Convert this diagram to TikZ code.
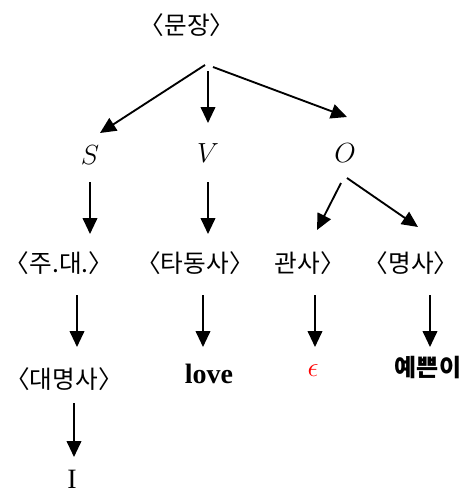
\documentclass[tikz,border=0pt]{standalone}
\usepackage{fontspec}
\setmainfont{Liberation Serif}
\newfontfamily\kr{Noto Sans CJK KR}
\usetikzlibrary{arrows.meta}
\tikzset{
    arr/.style={-{Triangle[length=12pt,width=11pt]}, line width=1.4pt},
    hang/.style={font=\kr\fontsize{18.5}{20}\selectfont, inner sep=0pt},
    word/.style={font=\fontsize{21}{24}\selectfont, inner sep=0pt},
    sym/.style={font=\fontsize{21}{24}\selectfont, inner sep=0pt}
}

\begin{document}
\begin{tikzpicture}[x=0.75pt, y=-0.75pt]
    \useasboundingbox (0,0) rectangle (469,493);
    % 뿌리
    \node[hang] (mun) at (187,25) {〈문장〉};
    \coordinate (split) at (208,67);
    % S V O
    \node[sym] (S) at (90,155) {$S$};
    \node[sym] (V) at (208,153) {$V$};
    \node[sym] (O) at (345,153) {$O$};
    \draw[arr] ([shift={(-3,-2)}]split) -- ([shift={(10,-22)}]S.center);
    \draw[arr] ([shift={(0,4)}]split) -- ([shift={(0,-30)}]V.center);
    \draw[arr] ([shift={(5,0)}]split) -- ([shift={(2,-36)}]O.center);
    % 셋째 줄
    \node[hang] (ju) at (59,263) {〈주.대.〉};
    \node[hang] (ta) at (195,263) {〈타동사〉};
    \node[hang] (gwan) at (310,263) {관사〉};
    \node[hang] (myeong) at (411,263) {〈명사〉};
    \draw[arr] ([shift={(0,27)}]S.center) -- ([shift={(31,-29)}]ju.center);
    \draw[arr] ([shift={(0,29)}]V.center) -- ([shift={(13,-29)}]ta.center);
    \draw[arr] ([shift={(-4,30)}]O.center) -- ([shift={(7,-33)}]gwan.center);
    \draw[arr] ([shift={(2,25)}]O.center) -- ([shift={(7,-36)}]myeong.center);
    % 넷째 줄
    \node[hang] (dae) at (64,379) {〈대명사〉};
    \node[word, font=\bfseries\fontsize{21}{24}\selectfont] (love) at (209,374) {love};
    \node[sym, red] (eps) at (313,371) {$\epsilon$};
    \node[hang, font=\kr\bfseries\fontsize{18}{20}\selectfont] (yep) at (428,368) {예쁜이};
    \draw[arr] ([shift={(18,32)}]ju.center) -- ([shift={(13,-32)}]dae.center);
    \draw[arr] ([shift={(8,32)}]ta.center) -- ([shift={(-6,-27)}]love.center);
    \draw[arr] ([shift={(5,32)}]gwan.center) -- ([shift={(2,-24)}]eps.center);
    \draw[arr] ([shift={(19,32)}]myeong.center) -- ([shift={(2,-21)}]yep.center);
    % 마지막
    \node[word] (I) at (72,479) {I};
    \draw[arr] ([shift={(10,24)}]dae.center) -- ([shift={(2,-22)}]I.center);
\end{tikzpicture}
\end{document}
